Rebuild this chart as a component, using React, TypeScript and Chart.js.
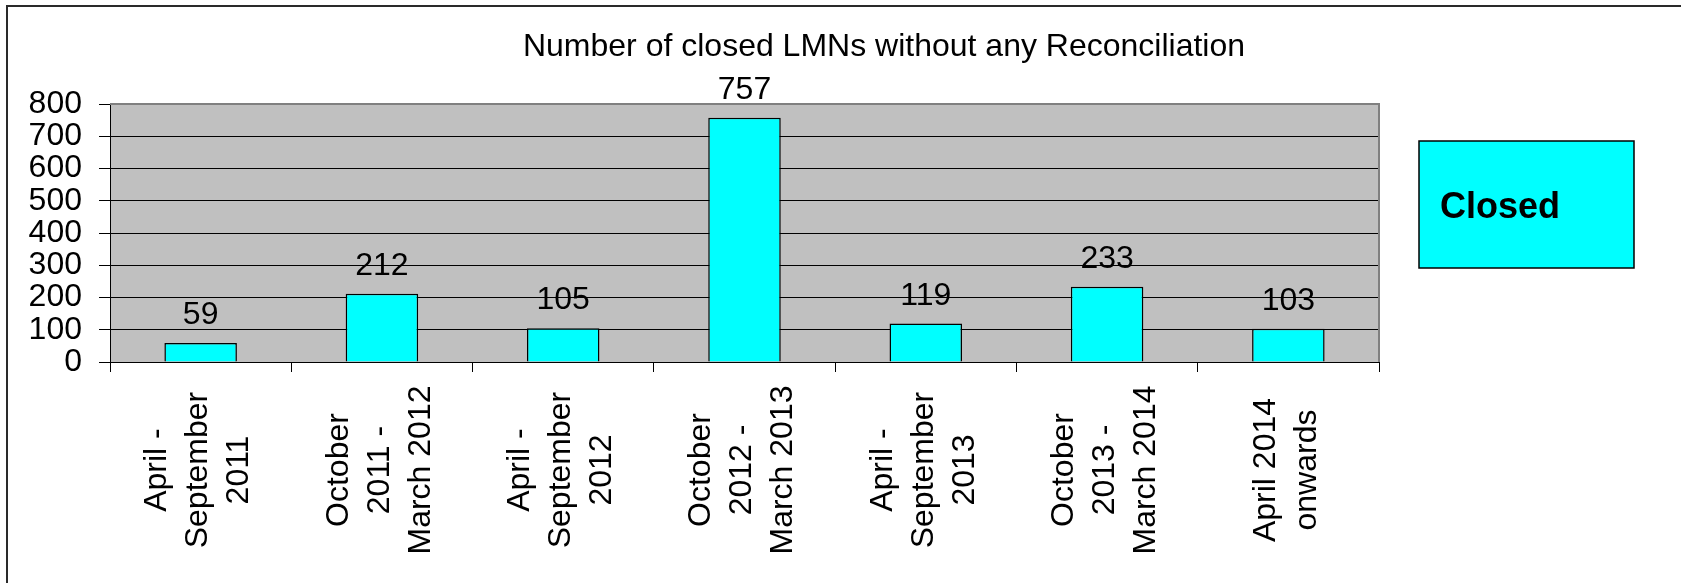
import React, { useEffect, useRef } from "react";
import { Chart, registerables } from "chart.js";

Chart.register(...registerables);

const TITLE = "Number of closed LMNs without any Reconciliation";
const SERIES_LABEL = "Closed";
const CATEGORIES: string[][] = [
  ["April -", "September", "2011"],
  ["October", "2011 -", "March 2012"],
  ["April -", "September", "2012"],
  ["October", "2012 -", "March 2013"],
  ["April -", "September", "2013"],
  ["October", "2013 -", "March 2014"],
  ["April 2014", "onwards"],
];
const VALUES: number[] = [59, 212, 105, 757, 119, 233, 103];
const Y_MIN = 0;
const Y_MAX = 800;
const Y_STEP = 100;

const FONT = "'Liberation Sans', Arial, Helvetica, sans-serif";
const W = 1681;
const H = 583;

const decorPlugin = {
  id: "decor",
  beforeDraw(chart: any) {
    const { ctx, chartArea } = chart;
    ctx.save();
    ctx.fillStyle = "#ffffff";
    ctx.fillRect(0, 0, chart.width, chart.height);
    ctx.fillStyle = "#c0c0c0";
    ctx.fillRect(chartArea.left, chartArea.top, chartArea.right - chartArea.left, chartArea.bottom - chartArea.top);
    ctx.strokeStyle = "#2a2a2a";
    ctx.lineWidth = 2;
    ctx.beginPath();
    ctx.moveTo(W + 5, 6);
    ctx.lineTo(7, 6);
    ctx.lineTo(7, H + 5);
    ctx.stroke();
    ctx.fillStyle = "#000";
    ctx.font = `32px ${FONT}`;
    ctx.textAlign = "center";
    ctx.textBaseline = "alphabetic";
    ctx.fillText(TITLE, 884, 56);
    ctx.restore();
  },
  beforeDatasetsDraw(chart: any) {
    const { ctx, chartArea } = chart;
    ctx.save();
    ctx.strokeStyle = "#808080";
    ctx.lineWidth = 2;
    ctx.beginPath();
    ctx.moveTo(chartArea.left, chartArea.top);
    ctx.lineTo(chartArea.right, chartArea.top);
    ctx.lineTo(chartArea.right, chartArea.bottom);
    ctx.stroke();
    ctx.restore();
  },
  afterDatasetsDraw(chart: any) {
    const { ctx } = chart;
    const meta = chart.getDatasetMeta(0);
    ctx.save();
    ctx.fillStyle = "#000";
    ctx.font = `32px ${FONT}`;
    ctx.textAlign = "center";
    ctx.textBaseline = "alphabetic";
    meta.data.forEach((el: any, i: number) => {
      ctx.fillText(String(VALUES[i]), el.x, el.y - 19);
    });
    const xScale = chart.scales.x;
    const lh = 41;
    CATEGORIES.forEach((lines, i) => {
      const cx = xScale.getPixelForValue(i) - 2;
      ctx.save();
      ctx.translate(cx, 470);
      ctx.rotate(-Math.PI / 2);
      ctx.textAlign = "center";
      ctx.textBaseline = "middle";
      lines.forEach((line, j) => {
        ctx.fillText(line, 0, (j - (lines.length - 1) / 2) * lh);
      });
      ctx.restore();
    });
    const lx = 1419, ly = 141, lw = 215, lhgt = 127;
    ctx.fillStyle = "#00ffff";
    ctx.fillRect(lx, ly, lw, lhgt);
    ctx.strokeStyle = "#000";
    ctx.lineWidth = 1.5;
    ctx.strokeRect(lx, ly, lw, lhgt);
    ctx.fillStyle = "#000";
    ctx.font = `bold 36px ${FONT}`;
    ctx.textAlign = "left";
    ctx.textBaseline = "alphabetic";
    ctx.fillText(chart.data.datasets[0].label, 1440, 218);
    ctx.restore();
  },
};

export default function App() {
  const ref = useRef<HTMLCanvasElement | null>(null);
  useEffect(() => {
    if (!ref.current) return;
    const chart = new Chart(ref.current, {
      type: "bar",
      data: {
        labels: CATEGORIES.map((l) => l.join(" ")),
        datasets: [
          {
            label: SERIES_LABEL,
            data: VALUES,
            backgroundColor: "#00ffff",
            borderColor: "#000000",
            borderWidth: 1.5,
            barPercentage: 0.4,
            categoryPercentage: 1,
          },
        ],
      },
      options: {
        animation: false,
        responsive: false,
        devicePixelRatio: 1,
        layout: { padding: { left: 0, top: 104, right: 302, bottom: 0 } },
        plugins: {
          legend: { display: false },
          title: { display: false },
          tooltip: { enabled: false },
        },
        scales: {
          x: {
            offset: true,
            afterFit: (s: any) => {
              s.height = 221;
            },
            ticks: { display: false },
            grid: {
              offset: true,
              drawOnChartArea: false,
              drawTicks: true,
              tickLength: 10,
              tickColor: "#000",
              lineWidth: 1,
            },
            border: { display: true, color: "#000", width: 1 },
          },
          y: {
            min: Y_MIN,
            max: Y_MAX,
            afterFit: (s: any) => {
              s.width = 110;
            },
            ticks: {
              stepSize: Y_STEP,
              autoSkip: false,
              color: "#000",
              padding: 17,
              font: { size: 32, family: FONT },
            },
            grid: {
              color: "#000",
              lineWidth: 1,
              drawTicks: true,
              tickLength: 11,
              tickColor: "#000",
            },
            border: { display: true, color: "#000", width: 1 },
          },
        },
      },
      plugins: [decorPlugin],
    });
    return () => chart.destroy();
  }, []);
  return (
    <div style={{ position: "fixed", left: 0, top: 0, width: W, height: H, background: "#fff" }}>
      <canvas ref={ref} width={W} height={H} style={{ display: "block" }} />
    </div>
  );
}
